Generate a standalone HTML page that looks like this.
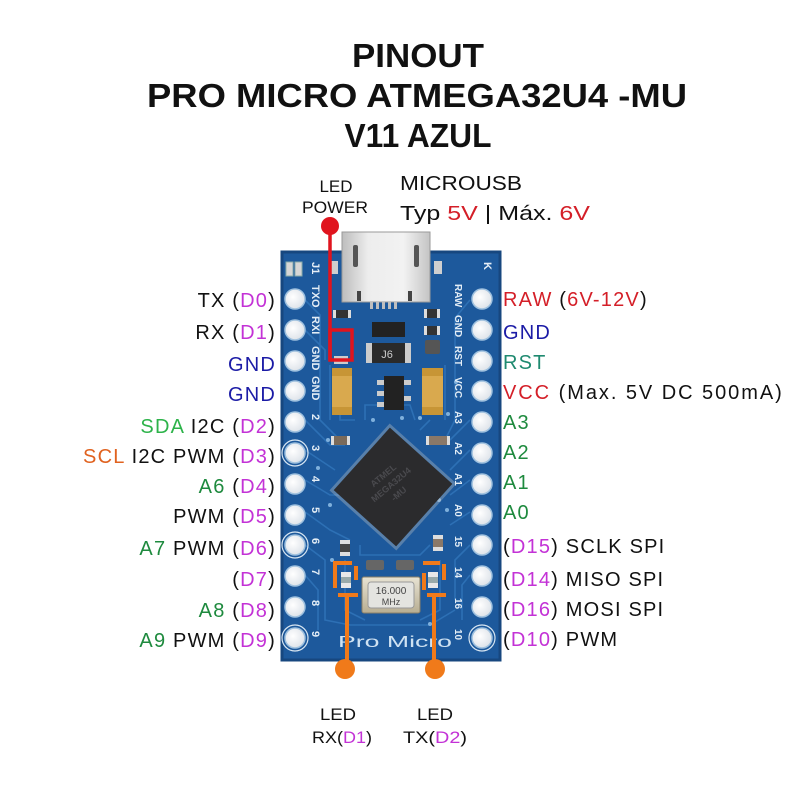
<!DOCTYPE html>
<html><head><meta charset="utf-8"><style>
html,body{margin:0;padding:0;background:#fff;}
svg{display:block;}
text{font-family:"Liberation Sans",sans-serif;}
</style></head><body>
<svg width="800" height="800" viewBox="0 0 800 800" xmlns="http://www.w3.org/2000/svg">
<rect width="800" height="800" fill="#fff"/>
<defs>
<linearGradient id="usb" x1="0" y1="0" x2="1" y2="0">
<stop offset="0" stop-color="#bdbdbd"/><stop offset="0.3" stop-color="#ededed"/><stop offset="0.7" stop-color="#f2f2f2"/><stop offset="1" stop-color="#c4c4c4"/>
</linearGradient>
<linearGradient id="xtal" x1="0" y1="0" x2="0" y2="1">
<stop offset="0" stop-color="#e8e3d3"/><stop offset="1" stop-color="#b8ae92"/>
</linearGradient>
<radialGradient id="hole" cx="0.4" cy="0.4" r="0.6">
<stop offset="0" stop-color="#ffffff"/><stop offset="1" stop-color="#dfe4ea"/>
</radialGradient>
</defs>

<!-- Title -->
<g font-weight="bold" font-size="33" fill="#111" text-anchor="middle">
<text x="418" y="67" textLength="132" lengthAdjust="spacingAndGlyphs">PINOUT</text>
<text x="417" y="107" textLength="540" lengthAdjust="spacingAndGlyphs">PRO MICRO ATMEGA32U4 -MU</text>
<text x="418" y="147" textLength="147" lengthAdjust="spacingAndGlyphs">V11 AZUL</text>
</g>

<!-- top labels -->
<g font-size="17" fill="#111" text-anchor="middle">
<text x="336" y="192" textLength="33" lengthAdjust="spacingAndGlyphs">LED</text>
<text x="335" y="213" textLength="66" lengthAdjust="spacingAndGlyphs">POWER</text>
</g>
<text x="400" y="190" font-size="20" fill="#111" textLength="122" lengthAdjust="spacingAndGlyphs">MICROUSB</text>
<text x="400" y="220" font-size="20" fill="#111" textLength="190" lengthAdjust="spacingAndGlyphs">Typ <tspan fill="#d41f28">5V</tspan> | Máx. <tspan fill="#d41f28">6V</tspan></text>

<!-- Board -->
<rect x="282" y="252" width="218" height="408" fill="#1d599c" stroke="#17477f" stroke-width="3"/>
<!-- traces -->
<g stroke="#2f73b8" stroke-width="1.6" fill="none" opacity="0.9">
<path d="M305 300 L320 315 L320 420 L340 440"/>
<path d="M305 330 L325 350 L325 360"/>
<path d="M305 420 L330 445 L345 445"/>
<path d="M305 450 L335 470"/>
<path d="M305 480 L330 495 L340 495"/>
<path d="M305 512 L330 530 L350 540"/>
<path d="M305 545 L325 560 L325 620 L350 625 L430 625 L455 610"/>
<path d="M305 575 L318 590 L318 630"/>
<path d="M470 300 L455 318 L455 420 L445 440"/>
<path d="M470 420 L450 440"/>
<path d="M470 450 L450 470"/>
<path d="M470 480 L450 495"/>
<path d="M470 512 L450 525"/>
<path d="M470 545 L455 560 L455 600"/>
<path d="M470 575 L462 585 L462 620"/>
<path d="M365 420 L365 405 L410 405 L415 420"/>
<path d="M355 420 L340 420 L340 415"/>
<path d="M430 420 L420 430"/>
<path d="M360 545 L360 555 L420 555 L430 545"/>
<path d="M345 560 L345 610 L365 620"/>
<path d="M440 560 L440 610 L420 620"/>
<path d="M330 420 L330 365"/>
<path d="M445 420 L445 365"/>
</g>
<!-- vias -->
<g fill="#7fb0dc">
<circle cx="328" cy="440" r="2"/><circle cx="373" cy="420" r="2"/><circle cx="402" cy="418" r="2"/>
<circle cx="420" cy="418" r="2"/><circle cx="330" cy="505" r="2"/><circle cx="447" cy="510" r="2"/>
<circle cx="439" cy="500" r="2"/><circle cx="332" cy="560" r="2"/><circle cx="430" cy="624" r="2"/>
<circle cx="456" cy="382" r="2"/><circle cx="448" cy="414" r="2"/><circle cx="318" cy="468" r="2"/>
</g>

<!-- J1 pads -->
<rect x="286" y="262" width="7" height="14" fill="#d6d6d6" stroke="#8aa" stroke-width="1"/>
<rect x="295" y="262" width="7" height="14" fill="#d6d6d6" stroke="#8aa" stroke-width="1"/>
<text transform="translate(312,262) rotate(90)" font-size="11" font-weight="bold" fill="#e6eef6">J1</text>
<text transform="translate(484,262) rotate(90)" font-size="11" font-weight="bold" fill="#e6eef6">K</text>
<rect x="330" y="261" width="8" height="13" fill="#cfcfcf"/>
<rect x="434" y="261" width="8" height="13" fill="#cfcfcf"/>

<!-- USB -->
<rect x="342" y="232" width="88" height="70" fill="url(#usb)" stroke="#9a9a9a" stroke-width="1"/>
<rect x="353" y="245" width="5" height="22" rx="2" fill="#555"/>
<rect x="414" y="245" width="5" height="22" rx="2" fill="#555"/>
<rect x="357" y="291" width="4" height="10" fill="#444"/>
<rect x="408" y="291" width="4" height="10" fill="#444"/>
<g fill="#bfbfbf"><rect x="370" y="302" width="3" height="7"/><rect x="376" y="302" width="3" height="7"/><rect x="382" y="302" width="3" height="7"/><rect x="388" y="302" width="3" height="7"/><rect x="394" y="302" width="3" height="7"/></g>

<!-- components top -->
<g>
<rect x="335" y="310" width="14" height="8" fill="#333"/><rect x="333" y="310" width="3" height="8" fill="#ddd"/><rect x="348" y="310" width="3" height="8" fill="#ddd"/>
<rect x="372" y="322" width="33" height="15" fill="#222"/>
<rect x="368" y="343" width="41" height="20" fill="#2a2a2a"/><rect x="366" y="343" width="6" height="20" fill="#ccc"/><rect x="405" y="343" width="6" height="20" fill="#ccc"/>
<text x="387" y="358" font-size="11" fill="#ccc" text-anchor="middle">J6</text>
<rect x="426" y="309" width="12" height="9" fill="#333"/><rect x="424" y="309" width="3" height="9" fill="#ddd"/><rect x="437" y="309" width="3" height="9" fill="#ddd"/>
<rect x="426" y="326" width="12" height="9" fill="#333"/><rect x="424" y="326" width="3" height="9" fill="#ddd"/><rect x="437" y="326" width="3" height="9" fill="#ddd"/>
<rect x="425" y="340" width="15" height="14" rx="2" fill="#555"/>
<rect x="384" y="376" width="20" height="34" fill="#222"/>
<g fill="#ccc"><rect x="377" y="380" width="7" height="5"/><rect x="377" y="391" width="7" height="5"/><rect x="377" y="402" width="7" height="5"/><rect x="404" y="380" width="7" height="5"/><rect x="404" y="396" width="7" height="5"/></g>
<!-- tantalum caps -->
<rect x="332" y="368" width="20" height="47" fill="#d9a94e"/><rect x="332" y="368" width="20" height="8" fill="#c79536"/><rect x="332" y="407" width="20" height="8" fill="#c79536"/>
<rect x="422" y="368" width="21" height="47" fill="#d9a94e"/><rect x="422" y="368" width="21" height="8" fill="#c79536"/><rect x="422" y="407" width="21" height="8" fill="#c79536"/>
<rect x="334" y="356" width="14" height="8" fill="#ccc"/>
<!-- small caps near chip -->
<rect x="333" y="436" width="15" height="9" fill="#7a6a5a"/><rect x="331" y="436" width="3" height="9" fill="#ddd"/><rect x="347" y="436" width="3" height="9" fill="#ddd"/>
<rect x="428" y="436" width="20" height="9" fill="#8a7868"/><rect x="426" y="436" width="3" height="9" fill="#ddd"/><rect x="447" y="436" width="3" height="9" fill="#ddd"/>
</g>

<!-- chip -->
<g transform="translate(393,487) rotate(42)">
<rect x="-45" y="-45" width="90" height="90" fill="#c9c9c9" opacity="0.35"/>
<rect x="-42" y="-42" width="84" height="84" fill="#2b2b2d"/>
</g>
<g transform="translate(393,487) rotate(-40)" fill="#4a4a4e" font-size="9" font-weight="bold" text-anchor="middle">
<text x="0" y="-12">ATMEL</text><text x="0" y="0">MEGA32U4</text><text x="0" y="12">-MU</text>
</g>

<!-- lower components -->
<rect x="340" y="540" width="10" height="16" fill="#ddd"/><rect x="340" y="544" width="10" height="8" fill="#444"/>
<rect x="433" y="535" width="10" height="16" fill="#ddd"/><rect x="433" y="539" width="10" height="8" fill="#8a7868"/>
<rect x="366" y="560" width="18" height="10" rx="2" fill="#666"/>
<rect x="396" y="560" width="18" height="10" rx="2" fill="#666"/>
<rect x="341" y="572" width="10" height="16" fill="#e8e8e8"/><rect x="341" y="577" width="10" height="6" fill="#9aa"/>
<rect x="428" y="572" width="10" height="16" fill="#e8e8e8"/><rect x="428" y="577" width="10" height="6" fill="#9aa"/>
<rect x="362" y="577" width="58" height="36" rx="2" fill="url(#xtal)" stroke="#8a8068" stroke-width="1"/>
<rect x="368" y="582" width="46" height="26" rx="3" fill="#e4e4e0" stroke="#999" stroke-width="1"/>
<text x="391" y="594" font-size="10" fill="#444" text-anchor="middle">16.000</text>
<text x="391" y="605" font-size="9" fill="#444" text-anchor="middle">MHz</text>

<!-- silkscreen labels -->
<g font-size="11" font-weight="bold" fill="#e3edf6" font-family="Liberation Mono, monospace">
<text transform="translate(312,285) rotate(90)">TXO</text>
<text transform="translate(312,316) rotate(90)">RXI</text>
<text transform="translate(312,346) rotate(90)">GND</text>
<text transform="translate(312,376) rotate(90)">GND</text>
<text transform="translate(312,414) rotate(90)">2</text>
<text transform="translate(312,445) rotate(90)">3</text>
<text transform="translate(312,476) rotate(90)">4</text>
<text transform="translate(312,507) rotate(90)">5</text>
<text transform="translate(312,538) rotate(90)">6</text>
<text transform="translate(312,569) rotate(90)">7</text>
<text transform="translate(312,600) rotate(90)">8</text>
<text transform="translate(312,631) rotate(90)">9</text>
</g>
<g font-size="10" font-weight="bold" fill="#e3edf6" font-family="Liberation Mono, monospace">
<text transform="translate(455,284) rotate(90)">RAW</text>
<text transform="translate(455,315) rotate(90)">GND</text>
<text transform="translate(455,346) rotate(90)">RST</text>
<text transform="translate(455,377) rotate(90)">VCC</text>
<text transform="translate(455,411) rotate(90)">A3</text>
<text transform="translate(455,442) rotate(90)">A2</text>
<text transform="translate(455,473) rotate(90)">A1</text>
<text transform="translate(455,504) rotate(90)">A0</text>
<text transform="translate(455,536) rotate(90)">15</text>
<text transform="translate(455,567) rotate(90)">14</text>
<text transform="translate(455,598) rotate(90)">16</text>
<text transform="translate(455,629) rotate(90)">10</text>
</g>
<text x="338" y="647" font-size="16" fill="#cfe2f2" font-family="Liberation Mono, monospace" textLength="114" lengthAdjust="spacingAndGlyphs">Pro Micro</text>

<!-- holes -->
<g stroke="#9ec0de" stroke-width="1.5" fill="url(#hole)">
<circle cx="295" cy="299" r="10"/><circle cx="295" cy="330" r="10"/><circle cx="295" cy="361" r="10"/><circle cx="295" cy="391" r="10"/>
<circle cx="295" cy="422" r="10"/><circle cx="295" cy="453" r="10"/><circle cx="295" cy="484" r="10"/><circle cx="295" cy="515" r="10"/>
<circle cx="295" cy="545" r="10"/><circle cx="295" cy="576" r="10"/><circle cx="295" cy="607" r="10"/><circle cx="295" cy="638" r="10"/>
<circle cx="482" cy="299" r="10"/><circle cx="482" cy="330" r="10"/><circle cx="482" cy="361" r="10"/><circle cx="482" cy="391" r="10"/>
<circle cx="482" cy="422" r="10"/><circle cx="482" cy="453" r="10"/><circle cx="482" cy="484" r="10"/><circle cx="482" cy="515" r="10"/>
<circle cx="482" cy="545" r="10"/><circle cx="482" cy="576" r="10"/><circle cx="482" cy="607" r="10"/><circle cx="482" cy="638" r="10"/>
</g>
<g stroke="#d8e6f2" stroke-width="1.2" fill="none">
<circle cx="295" cy="453" r="13"/><circle cx="295" cy="545" r="13"/><circle cx="295" cy="638" r="13"/><circle cx="482" cy="638" r="13"/>
</g>

<!-- red LED power marker -->
<g stroke="#e0141e" stroke-width="3.5" fill="none">
<line x1="330" y1="226" x2="330" y2="360"/>
<rect x="330" y="330" width="22" height="30"/>
</g>
<circle cx="330" cy="226" r="9" fill="#e0141e"/>

<!-- orange LED markers -->
<g stroke="#f07a1a" stroke-width="4" fill="none" stroke-linecap="butt">
<path d="M333 563 H352"/><path d="M335 563 V588"/><path d="M356 566 V580"/><path d="M338 595 H358"/>
<line x1="347" y1="595" x2="347" y2="668"/>
<path d="M423 563 H440"/><path d="M444 564 V580"/><path d="M424 573 V590"/><path d="M427 595 H446"/>
<line x1="434" y1="595" x2="434" y2="668"/>
</g>
<circle cx="345" cy="669" r="10" fill="#f07a1a"/>
<circle cx="435" cy="669" r="10" fill="#f07a1a"/>

<!-- left labels -->
<g font-size="20" fill="#111" text-anchor="end" letter-spacing="1.2">
<text x="276" y="307">TX (<tspan fill="#c332d6">D0</tspan>)</text>
<text x="276" y="339">RX (<tspan fill="#c332d6">D1</tspan>)</text>
<text x="276" y="371" fill="#1b1ba6">GND</text>
<text x="276" y="401" fill="#1b1ba6">GND</text>
<text x="276" y="433"><tspan fill="#2db34a">SDA</tspan> I2C (<tspan fill="#c332d6">D2</tspan>)</text>
<text x="276" y="463"><tspan fill="#e0621f">SCL</tspan> I2C PWM (<tspan fill="#c332d6">D3</tspan>)</text>
<text x="276" y="493"><tspan fill="#1e8a3e">A6</tspan> (<tspan fill="#c332d6">D4</tspan>)</text>
<text x="276" y="523">PWM (<tspan fill="#c332d6">D5</tspan>)</text>
<text x="276" y="555"><tspan fill="#1e8a3e">A7</tspan> PWM (<tspan fill="#c332d6">D6</tspan>)</text>
<text x="276" y="586">(<tspan fill="#c332d6">D7</tspan>)</text>
<text x="276" y="617"><tspan fill="#1e8a3e">A8</tspan> (<tspan fill="#c332d6">D8</tspan>)</text>
<text x="276" y="647"><tspan fill="#1e8a3e">A9</tspan> PWM (<tspan fill="#c332d6">D9</tspan>)</text>
</g>

<!-- right labels -->
<g font-size="20" fill="#111" letter-spacing="1.2">
<text x="503" y="306"><tspan fill="#d41f28">RAW</tspan> (<tspan fill="#d41f28">6V-12V</tspan>)</text>
<text x="503" y="339" fill="#1b1ba6">GND</text>
<text x="503" y="369" fill="#1f8a70">RST</text>
<text x="503" y="399" textLength="280" lengthAdjust="spacing"><tspan fill="#d41f28">VCC</tspan> (Max. 5V DC 500mA)</text>
<text x="503" y="429" fill="#1e8a3e">A3</text>
<text x="503" y="459" fill="#1e8a3e">A2</text>
<text x="503" y="489" fill="#1e8a3e">A1</text>
<text x="503" y="519" fill="#1e8a3e">A0</text>
<text x="503" y="553">(<tspan fill="#c332d6">D15</tspan>) SCLK SPI</text>
<text x="503" y="586">(<tspan fill="#c332d6">D14</tspan>) MISO SPI</text>
<text x="503" y="616">(<tspan fill="#c332d6">D16</tspan>) MOSI SPI</text>
<text x="503" y="646">(<tspan fill="#c332d6">D10</tspan>) PWM</text>
</g>

<!-- bottom labels -->
<g font-size="17" fill="#111" text-anchor="middle">
<text x="338" y="720" textLength="36" lengthAdjust="spacingAndGlyphs">LED</text>
<text x="342" y="743" textLength="60" lengthAdjust="spacingAndGlyphs">RX(<tspan fill="#c332d6">D1</tspan>)</text>
<text x="435" y="720" textLength="36" lengthAdjust="spacingAndGlyphs">LED</text>
<text x="435" y="743" textLength="64" lengthAdjust="spacingAndGlyphs">TX(<tspan fill="#c332d6">D2</tspan>)</text>
</g>
</svg>
</body></html>
